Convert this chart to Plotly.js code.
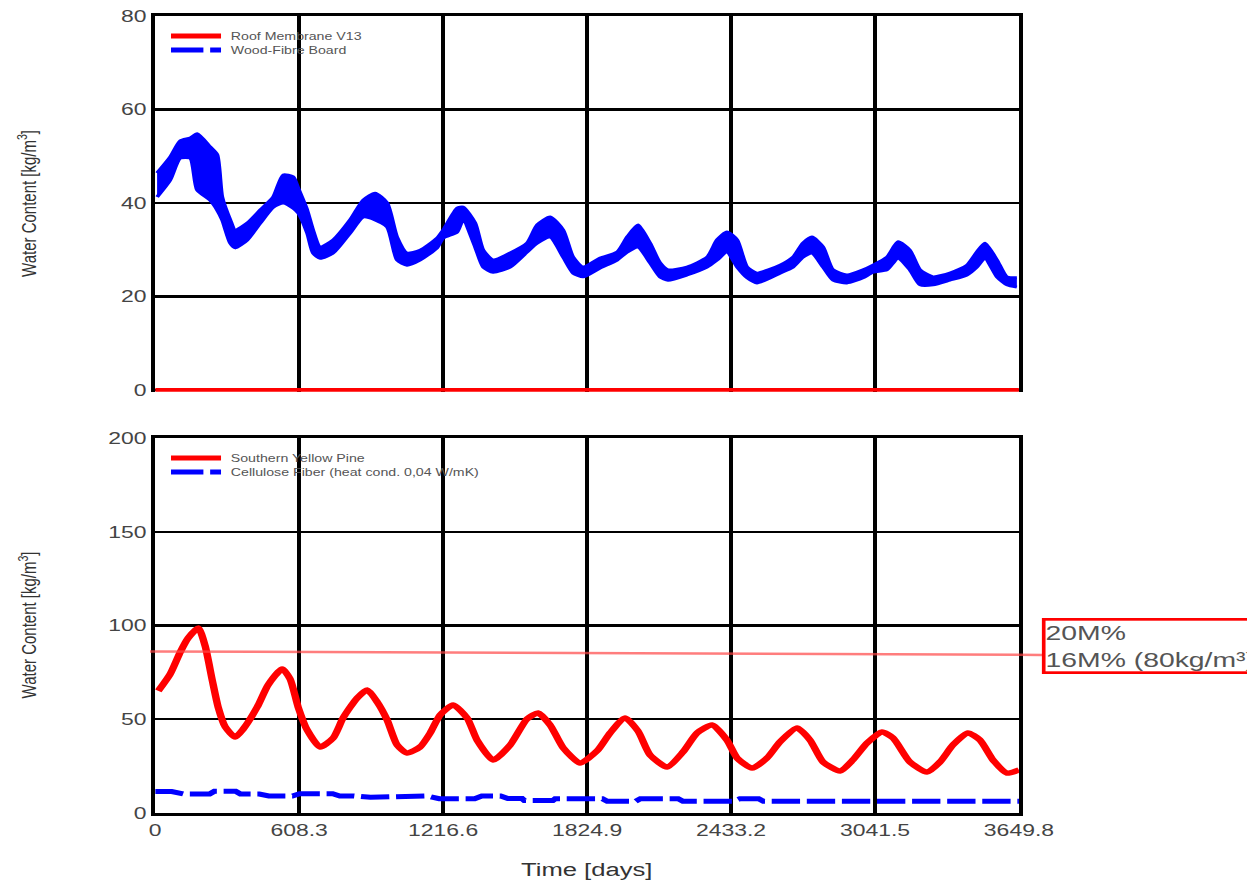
<!DOCTYPE html>
<html><head><meta charset="utf-8">
<script src="https://cdn.plot.ly/plotly-3.0.1.min.js"></script>
<style>
html,body{margin:0;padding:0;background:#fff;overflow:hidden;width:1247px;height:880px}
#chart{width:924px;height:880px;transform:scaleX(1.3496);transform-origin:0 0;}
</style></head><body><div id="chart"></div>
<script>
// ---------- data ----------
var xTickVals = [0, 608.3, 1216.6, 1824.9, 2433.2, 3041.5, 3649.8];
var xTickText = ['0', '608.3', '1216.6', '1824.9', '2433.2', '3041.5', '3649.8'];
var yTickTop = [0, 20, 40, 60, 80];
var yTickBottom = [0, 50, 100, 150, 200];

// upper panel: Wood fibre board (band of daily fluctuation)
var topDays = [8,63,106,148,177,232,262,283,317,338,389,444,499,541,583,604,642,667,697,752,824,879,929,980,1022,1064,1119,1191,1217,1276,1301,1352,1386,1428,1500,1571,1614,1669,1724,1766,1808,1880,1952,1994,2040,2091,2133,2167,2247,2332,2374,2416,2459,2501,2543,2640,2695,2737,2775,2822,2864,2923,2991,3033,3092,3139,3189,3232,3287,3358,3430,3472,3506,3557,3599,3641];
var woodUpper = [46.4,49.8,53.3,53.9,54.8,52.0,50.3,41.3,36.4,34.2,35.7,38.5,41.3,46.0,45.6,43.2,38.5,34.2,30.6,32.1,36.4,40.6,42.1,40.0,32.7,29.3,29.9,32.5,34.2,38.9,39.1,35.7,29.9,27.8,29.3,31.4,35.3,37.0,34.2,28.4,26.3,28.2,29.5,32.7,35.3,31.4,27.2,25.7,26.3,28.4,32.1,33.8,32.1,26.3,25.0,26.7,28.4,31.4,32.7,30.6,25.7,24.6,25.7,26.7,28.4,31.7,29.9,25.7,24.2,25.0,26.7,29.5,31.4,27.8,24.2,24.0];
var woodLower = [41.3,44.9,49.6,49.6,42.8,40.6,38.5,36.4,31.4,30.4,32.1,35.7,39.1,40.0,38.9,37.9,33.6,29.3,28.2,29.3,33.6,37.0,36.4,34.9,27.8,26.7,27.8,30.4,32.5,33.8,36.4,30.6,26.3,25.2,26.3,29.5,31.4,32.7,28.4,25.0,24.2,26.1,27.8,29.5,30.6,27.2,24.2,23.5,24.6,26.3,27.8,29.5,26.3,24.0,22.9,25.0,26.3,28.4,29.3,26.3,23.5,22.9,24.0,25.2,25.7,28.2,25.7,22.5,22.5,23.5,24.6,26.3,28.2,24.2,22.5,22.0];

// upper panel: roof membrane
var roofDays = [0, 3649.8];
var roofValues = [0, 0];

// lower panel: Southern Yellow Pine
var pineDays = [13,63,106,139,182,211,241,266,296,338,372,431,477,536,570,604,642,697,752,794,853,896,938,980,1022,1064,1119,1162,1204,1259,1318,1360,1428,1500,1571,1618,1669,1724,1795,1867,1922,1985,2040,2091,2163,2230,2290,2353,2416,2459,2522,2585,2640,2712,2767,2822,2894,2948,3008,3071,3118,3189,3261,3316,3371,3434,3485,3540,3599,3650];
var pineValues = [65.1,74.1,85.9,93.3,98.7,89.1,70.9,56.5,45.9,40.5,44.8,56.5,68.3,76.8,71.5,56.5,44.3,35.2,40.0,50.7,61.3,65.6,59.2,49.6,36.3,32.0,35.2,42.7,52.3,57.6,50.7,38.9,28.3,36.3,50.1,53.3,46.9,34.7,26.7,33.1,42.7,50.7,43.7,30.9,24.5,32.5,42.7,46.9,38.9,29.3,24.0,29.3,37.9,45.3,38.9,27.2,22.4,28.3,37.3,43.2,40.0,27.2,21.9,27.2,36.3,42.7,38.9,28.3,21.3,22.9];

// lower panel: Cellulose fibre
var celDays = [0,70,120,230,250,340,360,440,480,580,610,750,780,840,910,1060,1150,1200,1350,1380,1460,1490,1550,1560,1680,1690,1890,1910,2030,2050,2210,2230,2440,2470,2550,2570,2800,3000,3200,3400,3650];
var celValues = [11.4,11.4,10.1,10.1,11.6,11.6,10.1,10.1,9.1,9.1,10.3,10.3,9.1,9.1,8.4,9.1,9.1,7.6,7.6,9.1,9.1,7.7,7.7,6.6,6.6,7.6,7.6,6.2,6.2,7.6,7.6,6.2,6.2,7.6,7.6,6.2,6.2,6.2,6.2,6.2,6.2];

// reference level line (left / right end) and its label
var thresholdLevels = [86.2, 84.3];
var thresholdLabel = ['20M%', '16M% (80kg/m³)'];

var seriesNamesTop = ['Roof Membrane V13', 'Wood-Fibre Board'];
var seriesNamesBottom = ['Southern Yellow Pine', 'Cellulose Fiber (heat cond. 0,04 W/mK)'];

// ---------- chart ----------
var FONT = 'Liberation Sans, Arial, sans-serif';
var BLUE = '#0000ff', RED = '#ff0000';

var traces = [
  {x: topDays, y: woodLower, xaxis: 'x', yaxis: 'y', mode: 'lines', line: {color: BLUE, width: 3, shape: 'spline', smoothing: 0.6}, hoverinfo: 'skip'},
  {x: topDays, y: woodUpper, xaxis: 'x', yaxis: 'y', mode: 'lines', fill: 'tonexty', fillcolor: BLUE, line: {color: BLUE, width: 3, shape: 'spline', smoothing: 0.6}, hoverinfo: 'skip'},
  {x: roofDays, y: roofValues, xaxis: 'x', yaxis: 'y', mode: 'lines', line: {color: RED, width: 4}, hoverinfo: 'skip'},
  {x: pineDays, y: pineValues, xaxis: 'x2', yaxis: 'y2', mode: 'lines', line: {color: RED, width: 5.5, shape: 'spline', smoothing: 0.6}, hoverinfo: 'skip'},
  {x: celDays, y: celValues, xaxis: 'x2', yaxis: 'y2', mode: 'lines', line: {color: BLUE, width: 5, dash: '21px,5px'}, hoverinfo: 'skip'}
];

var tickFont = {family: FONT, size: 17, color: '#444'};
var axCommon = {showline: true, linecolor: '#000', linewidth: 3, showgrid: true, gridcolor: '#000', zeroline: false, ticks: '', fixedrange: true};

function legendEntry(yPaper, color, dash, label) {
  return {
    shape: {type: 'line', xref: 'paper', yref: 'paper', x0: 0.0183, x1: 0.0762, y0: yPaper, y1: yPaper,
            line: {color: color, width: 5, dash: dash}},
    ann: {xref: 'paper', yref: 'paper', x: 0.0843, y: yPaper, xanchor: 'left', yanchor: 'middle', showarrow: false,
          text: label, font: {family: FONT, size: 10.5, color: '#555'}}
  };
}
var legs = [
  legendEntry(0.9749, RED, 'solid', seriesNamesTop[0]),
  legendEntry(0.9573, BLUE, '24px,5px', seriesNamesTop[1]),
  legendEntry(0.4454, RED, 'solid', seriesNamesBottom[0]),
  legendEntry(0.4279, BLUE, '24px,5px', seriesNamesBottom[1])
];

var shapes = [
  {type: 'line', xref: 'paper', yref: 'y2', x0: -0.006, x1: 1.0267, y0: thresholdLevels[0], y1: thresholdLevels[1],
   line: {color: 'rgba(255,70,70,0.7)', width: 2.5}, layer: 'above'}
].concat(legs.map(function (l) { return l.shape; }));

var annotations = [
  {xref: 'paper', yref: 'paper', x: -0.1484, y: 0.7642, textangle: -90, xanchor: 'center', yanchor: 'middle', showarrow: false,
   text: 'Water Content [kg/m<sup>3</sup>]', font: {family: FONT, size: 15, color: '#333'}},
  {xref: 'paper', yref: 'paper', x: -0.1484, y: 0.2353, textangle: -90, xanchor: 'center', yanchor: 'middle', showarrow: false,
   text: 'Water Content [kg/m<sup>3</sup>]', font: {family: FONT, size: 15, color: '#333'}},
  {xref: 'paper', yref: 'paper', x: 0.5, y: -0.0715, xanchor: 'center', yanchor: 'middle', showarrow: false,
   text: 'Time [days]', font: {family: FONT, size: 19, color: '#333'}},
  {xref: 'paper', yref: 'paper', x: 1.0267, y: 0.2095, xanchor: 'left', yanchor: 'middle', showarrow: false, align: 'left',
   text: thresholdLabel.join('<br>'), font: {family: FONT, size: 21, color: '#555'},
   bordercolor: RED, borderwidth: 2.7, borderpad: 0, bgcolor: '#fff'}
].concat(legs.map(function (l) { return l.ann; }));

var layout = {
  width: 924, height: 880,
  margin: {l: 115, r: 169, t: 16, b: 67},
  paper_bgcolor: '#fff', plot_bgcolor: '#fff',
  showlegend: false,
  font: {family: FONT},
  xaxis: Object.assign({}, axCommon, {domain: [0, 1], anchor: 'y', side: 'top', mirror: false, range: [0, 3649.8],
    tickvals: xTickVals, showticklabels: false, gridwidth: 2.8}),
  yaxis: Object.assign({}, axCommon, {domain: [0.5284, 1], anchor: 'x', mirror: true, range: [-0.4, 80],
    tickvals: yTickTop, ticktext: yTickTop.map(String), tickfont: tickFont, gridwidth: 2.2}),
  xaxis2: Object.assign({}, axCommon, {domain: [0, 1], anchor: 'y2', mirror: true, range: [0, 3649.8],
    tickvals: xTickVals, ticktext: xTickText, tickfont: tickFont, gridwidth: 2.8}),
  yaxis2: Object.assign({}, axCommon, {domain: [0, 0.4705], anchor: 'x2', mirror: true, range: [0, 200],
    tickvals: yTickBottom, ticktext: yTickBottom.map(String), tickfont: tickFont, gridwidth: 2.2}),
  shapes: shapes,
  annotations: annotations
};

Plotly.newPlot('chart', traces, layout, {displayModeBar: false, staticPlot: true});
</script></body></html>
